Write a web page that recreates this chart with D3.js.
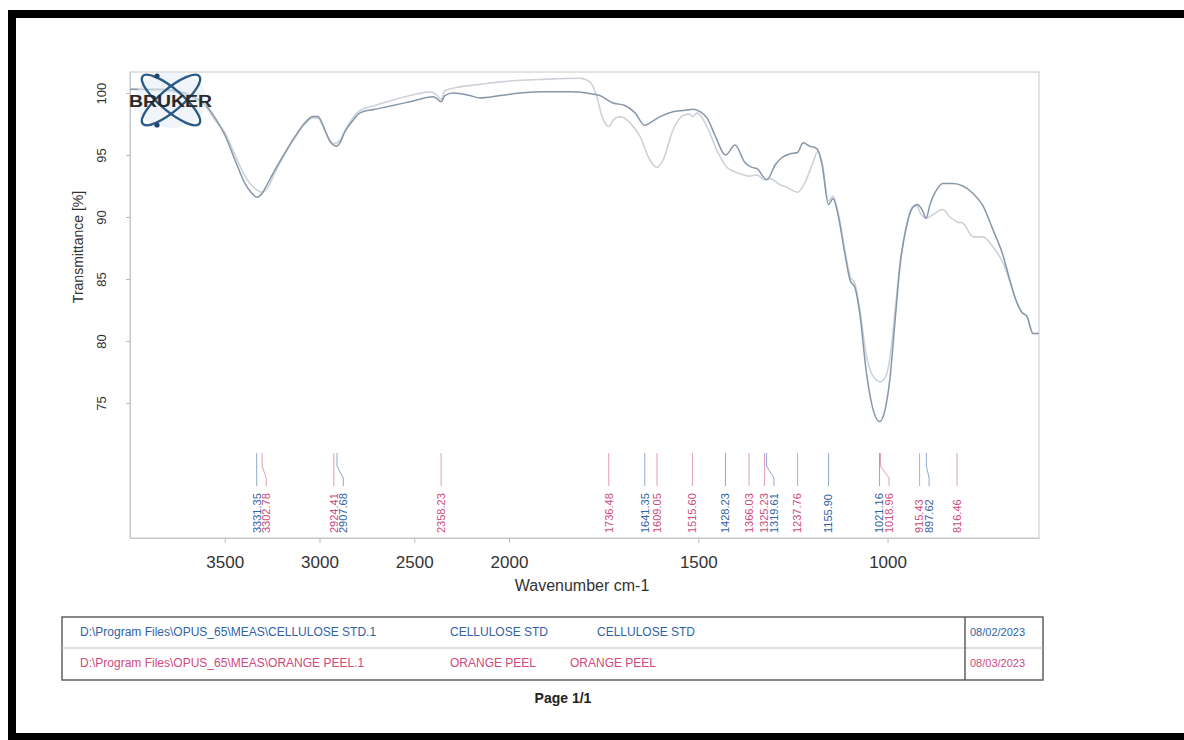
<!DOCTYPE html>
<html><head><meta charset="utf-8">
<script src="https://cdn.jsdelivr.net/npm/d3@7"></script>
<style>
body{margin:0;background:#fff}
svg{display:block;font-family:"Liberation Sans",Arial,Helvetica,sans-serif}
</style>
</head><body>
<svg id="c" width="1184" height="740"></svg>
<script>
// ---------------- DATA ----------------
const celluloseWn = [4000,3842,3710,3657,3604,3551,3499,3446,3393,3367,3331,3303,3288,3235,3182,3129,3077,3034,3008,2976,2945,2908,2892,2865,2828,2786,2707,2644,2522,2401,2385,2358,2338,2296,2206,2153,2047,1971,1900,1839,1794,1760,1725,1694,1667,1641,1628,1601,1567,1540,1513,1495,1477,1456,1428,1403,1377,1358,1345,1319,1297,1279,1258,1238,1223,1205,1192,1184,1173,1156,1144,1131,1112,1099,1086,1073,1057,1041,1021,1007,994,980,967,951,935,922,909,898,888,874,854,827,801,774,748,722,695,677,661,645,632,616,600];
const celluloseT  = [100.3,100.3,100.0,99.6,99.1,98.0,96.6,94.6,92.7,92.1,91.6,91.9,92.3,93.8,95.2,96.5,97.6,98.1,98.1,97.2,96.1,95.7,96.0,96.9,97.7,98.4,98.7,98.9,99.3,99.7,99.6,99.3,99.8,100.0,99.8,99.6,99.8,100.0,100.1,100.1,100.0,99.8,99.2,99.0,98.4,97.4,97.6,98.1,98.5,98.6,98.7,98.5,98.0,96.6,95.0,95.8,94.4,94.0,93.9,93.0,94.2,94.8,95.1,95.2,96.0,95.7,95.6,95.4,94.2,91.0,91.5,90.2,86.9,84.9,84.3,82.1,77.7,74.8,73.5,74.4,76.9,81.7,86.1,89.1,90.7,91.0,90.6,89.9,91.0,92.0,92.7,92.7,92.5,91.9,90.9,89.0,86.9,84.9,83.3,82.3,82.0,80.6,80.6];

const orangePeelWn = [4000,3842,3710,3657,3604,3551,3499,3446,3393,3367,3331,3303,3272,3235,3182,3129,3077,3034,3008,2976,2945,2924,2892,2865,2828,2786,2707,2644,2522,2417,2385,2358,2338,2259,2153,2047,1989,1918,1812,1786,1768,1754,1736,1725,1707,1680,1654,1628,1609,1593,1567,1540,1522,1515,1503,1477,1451,1424,1390,1366,1345,1325,1311,1284,1266,1238,1218,1197,1184,1173,1156,1144,1131,1112,1099,1086,1073,1057,1041,1019,1004,994,980,967,951,935,922,915,898,880,854,835,816,801,774,748,722,695,677,661,645,632,616,600];
const orangePeelT  = [100.3,100.2,99.9,99.5,99.0,97.8,96.8,95.0,93.3,92.7,92.2,92.0,92.4,93.6,95.1,96.4,97.5,98.0,98.0,97.1,96.2,95.9,96.2,97.0,97.9,98.6,99.0,99.3,99.8,100.1,99.9,99.5,100.2,100.5,100.7,100.9,101.0,101.1,101.2,100.9,99.7,98.1,97.3,97.8,98.1,97.6,96.5,94.6,94.0,94.6,97.0,98.2,98.3,98.1,98.4,97.3,95.4,94.0,93.5,93.3,93.4,93.0,93.1,92.6,92.4,92.0,92.8,94.4,95.3,94.4,91.3,91.7,90.4,87.2,85.2,84.6,82.5,79.0,77.3,76.7,77.2,78.6,82.5,86.3,89.2,90.8,90.9,90.4,89.9,90.2,90.6,90.0,89.6,89.5,88.4,88.4,87.6,86.3,84.8,83.3,82.3,82.0,80.6,80.6];

const peakWn  = [3331.35,3302.78,2924.41,2907.68,2358.23,1736.48,1641.35,1609.05,1515.60,1428.23,1366.03,1325.23,1319.61,1237.76,1155.90,1021.16,1018.96,915.43,897.62,816.46];
const peakSrc = ["C","P","P","C","P","P","C","P","P","C","P","P","C","P","C","C","P","P","C","P"];

const xTicks = [3500,3000,2500,2000,1500,1000];
const yTicks = [75,80,85,90,95,100];

const filePaths = ["D:\\Program Files\\OPUS_65\\MEAS\\CELLULOSE STD.1","D:\\Program Files\\OPUS_65\\MEAS\\ORANGE PEEL.1"];
const sampleNames = ["CELLULOSE STD","ORANGE PEEL"];
const sampleForms = ["CELLULOSE STD","ORANGE PEEL"];
const dates = ["08/02/2023","08/03/2023"];

// ---------------- LAYOUT ----------------
const svg = d3.select("#c");
const L = 130, R = 1039, T = 72, B = 538;
const x = d3.scaleLinear().domain([4000,2000,600]).range([L,509,R]);
const y = d3.scaleLinear().domain([64.1,101.7]).range([B,T]);

const BLUE = "#2f62a6", PINK = "#cf4a7e";
const lineDark = "#8797a9", lineLight = "#cdd2d9";

// page frame
svg.append("rect").attr("x",0).attr("y",0).attr("width",1184).attr("height",740).attr("fill","#fff");
svg.append("rect").attr("x",8).attr("y",10).attr("width",1176).attr("height",8).attr("fill","#000");
svg.append("rect").attr("x",8).attr("y",10).attr("width",8).attr("height",730).attr("fill","#000");
svg.append("rect").attr("x",8).attr("y",733).attr("width",1176).attr("height",7).attr("fill","#000");

// plot frame
svg.append("rect").attr("x",L).attr("y",T).attr("width",R-L).attr("height",B-T)
  .attr("fill","none").attr("stroke","#cfcfcf").attr("stroke-width",1.2);

// axes
const yAxis = svg.append("g").attr("transform",`translate(${L},0)`)
  .call(d3.axisLeft(y).tickValues(yTicks).tickSize(4).tickSizeOuter(0).tickFormat(d3.format("d")));
yAxis.select(".domain").attr("stroke","#c8c8c8");
yAxis.selectAll(".tick line").attr("stroke","#bbb");
yAxis.selectAll(".tick text").attr("transform","rotate(-90)")
  .attr("x",0).attr("y",-29).attr("dy","0.35em").attr("text-anchor","middle")
  .attr("font-size",13).attr("fill","#333").attr("font-family","Liberation Sans, Arial, sans-serif");

const xAxis = svg.append("g").attr("transform",`translate(0,${B})`)
  .call(d3.axisBottom(x).tickValues(xTicks).tickSize(5).tickSizeOuter(0).tickPadding(13).tickFormat(d3.format("d")));
xAxis.select(".domain").attr("stroke","#c8c8c8");
xAxis.selectAll(".tick line").attr("stroke","#bbb");
xAxis.selectAll(".tick text").attr("font-size",17).attr("fill","#333")
  .attr("font-family","Liberation Sans, Arial, sans-serif");

svg.append("text").attr("transform","translate(78,247) rotate(-90)").attr("text-anchor","middle")
  .attr("dy","0.35em").attr("font-size",14).attr("fill","#333").text("Transmittance [%]");
svg.append("text").attr("x",582).attr("y",591).attr("text-anchor","middle")
  .attr("font-size",16).attr("fill","#333").text("Wavenumber cm-1");

// spectra
svg.append("defs").append("clipPath").attr("id","plotclip")
  .append("rect").attr("x",L).attr("y",T).attr("width",R-L).attr("height",B-T);
const line = d3.line().x(d=>x(d[0])).y(d=>y(d[1])).curve(d3.curveMonotoneX);
const peelData = orangePeelWn.map((w,i)=>[w,orangePeelT[i]]);
const cellData = celluloseWn.map((w,i)=>[w,celluloseT[i]]);
const gl = svg.append("g").attr("clip-path","url(#plotclip)");
gl.append("path").datum(peelData).attr("d",line).attr("fill","none")
  .attr("stroke",lineLight).attr("stroke-width",1.6);
gl.append("path").datum(cellData).attr("d",line).attr("fill","none")
  .attr("stroke",lineDark).attr("stroke-width",1.5);

// peak labels
const peaks = peakWn.map((w,i)=>({w, src:peakSrc[i], px:x(w)})).sort((a,b)=>a.px-b.px);
let prev = -Infinity;
peaks.forEach(p=>{ p.lx = Math.max(p.px, prev + 9.5); prev = p.lx; });
const gp = svg.append("g");
peaks.forEach(p=>{
  const col = p.src==="C" ? BLUE : PINK;
  gp.append("path").attr("d",`M${p.px},453V466L${p.lx},478V486`)
    .attr("fill","none").attr("stroke",col).attr("stroke-opacity",0.55).attr("stroke-width",1);
  gp.append("text").attr("transform",`translate(${p.lx},533) rotate(-90)`)
    .attr("dy","0.35em").attr("font-size",11).attr("fill",col).text(p.w.toFixed(2));
});

// Bruker logo
const lg = svg.append("g");
lg.append("ellipse").attr("cx",171).attr("cy",100).attr("rx",36).attr("ry",28)
  .attr("fill","#e4eef7").attr("opacity",0.6);
[40,-40].forEach(a=>{
  lg.append("ellipse").attr("cx",171).attr("cy",100).attr("rx",37).attr("ry",11)
    .attr("transform",`rotate(${a},171,100)`).attr("fill","none")
    .attr("stroke","#2c5a86").attr("stroke-width",2.4);
});
lg.append("circle").attr("cx",157).attr("cy",76).attr("r",2.6).attr("fill","#1f4670");
lg.append("circle").attr("cx",157).attr("cy",125).attr("r",2.6).attr("fill","#1f4670");
lg.append("text").attr("x",129).attr("y",107).attr("font-size",16).attr("font-weight","bold")
  .attr("fill","#2a2a2a").attr("textLength",83).attr("lengthAdjust","spacingAndGlyphs").text("BRUKER");

// info table
const tb = svg.append("g");
tb.append("rect").attr("x",62).attr("y",617).attr("width",981).attr("height",63)
  .attr("fill","none").attr("stroke","#555").attr("stroke-width",1.4);
tb.append("line").attr("x1",62).attr("x2",1043).attr("y1",648).attr("y2",648)
  .attr("stroke","#bbb").attr("stroke-width",1);
tb.append("line").attr("x1",965).attr("x2",965).attr("y1",617).attr("y2",680)
  .attr("stroke","#555").attr("stroke-width",1.4);
const rowY = [636,667], rowCol = [BLUE, PINK], formX = [597,570];
rowY.forEach((ry,i)=>{
  tb.append("text").attr("x",80).attr("y",ry).attr("font-size",12).attr("fill",rowCol[i]).text(filePaths[i]);
  tb.append("text").attr("x",450).attr("y",ry).attr("font-size",12).attr("fill",rowCol[i]).text(sampleNames[i]);
  tb.append("text").attr("x",formX[i]).attr("y",ry).attr("font-size",12).attr("fill",rowCol[i]).text(sampleForms[i]);
  tb.append("text").attr("x",970).attr("y",ry).attr("font-size",11).attr("fill",rowCol[i]).text(dates[i]);
});
svg.append("text").attr("x",563).attr("y",703).attr("text-anchor","middle")
  .attr("font-size",14).attr("font-weight","bold").attr("fill","#222").text("Page 1/1");
</script>
</body></html>
